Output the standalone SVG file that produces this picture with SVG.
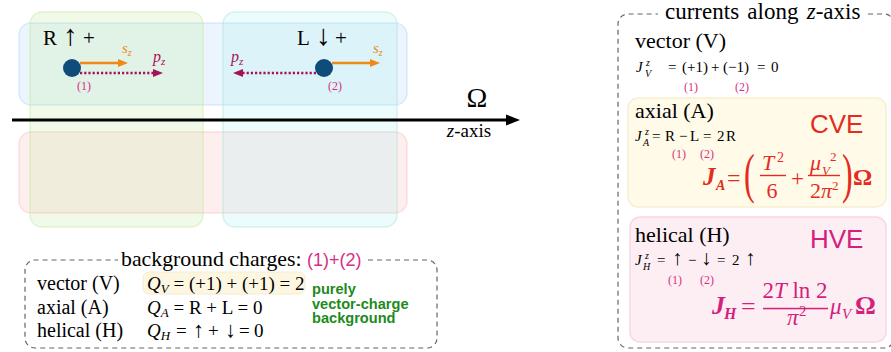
<svg xmlns="http://www.w3.org/2000/svg" width="891" height="352" viewBox="0 0 891 352">
<style>
.serif{font-family:"Liberation Serif","Times New Roman",serif;fill:#000}
.sans{font-family:"Liberation Sans",Arial,sans-serif}
.it{font-style:italic}
.bd{font-weight:bold}
.lbl{font-family:"Liberation Serif",serif;font-size:12px;fill:#d6307f;text-anchor:middle}
.dash{fill:none;stroke:#666;stroke-width:1.2;stroke-dasharray:5,4}
.reg{stroke-width:1.5}
.red{fill:#e52b1e}
.mag{fill:#d41f7c}
.orange{stroke:#f08a14;stroke-width:2.5;fill:none}
.purple{stroke:#a3135a;stroke-width:2.5;fill:none;stroke-dasharray:2.2,2}
</style>

<g id="regions">
  <rect x="19" y="23" width="388" height="82" rx="12" fill="#a0cef5" fill-opacity="0.2" stroke="#a0cef5" stroke-opacity="0.35" class="reg"/>
  <rect x="19" y="132" width="388" height="81" rx="12" fill="#f8b0b0" fill-opacity="0.2" stroke="#f8b0b0" stroke-opacity="0.35" class="reg"/>
  <rect x="30" y="12" width="173" height="215" rx="12" fill="#b8e890" fill-opacity="0.2" stroke="#b8e890" stroke-opacity="0.4" class="reg"/>
  <rect x="223" y="12" width="174" height="215" rx="12" fill="#a0ecec" fill-opacity="0.2" stroke="#a0e0d8" stroke-opacity="0.4" class="reg"/>
</g>

<g id="axis">
  <line x1="12" y1="120" x2="508" y2="120" stroke="#000" stroke-width="3"/>
  <polygon points="506,114.5 520,120 506,125.5" fill="#000"/>
  <text class="serif" x="477" y="107" font-size="28" text-anchor="middle">Ω</text>
  <text class="serif" x="469" y="137" font-size="19" text-anchor="middle"><tspan class="it">z</tspan>-axis</text>
</g>

<g id="particle1">
  <text class="serif" y="45" font-size="21"><tspan x="43">R</tspan><tspan x="63" font-size="29">↑</tspan><tspan x="83">+</tspan></text>
  <line x1="80" y1="63" x2="119" y2="63" class="orange"/>
  <polygon points="118,59 128,63 118,67" fill="#f08a14"/>
  <line x1="80" y1="73" x2="154" y2="73" class="purple"/>
  <polygon points="153,69 163,73 153,77" fill="#a3135a"/>
  <circle cx="72" cy="68" r="9" fill="#0f4c7a"/>
  <text class="serif it" x="122" y="53" font-size="15" style="fill:#f08a14">s<tspan font-size="10" dy="3">z</tspan></text>
  <text class="serif it" x="153" y="62" font-size="16" style="fill:#a3135a">p<tspan font-size="11" dy="3">z</tspan></text>
  <text class="lbl" x="84" y="90">(1)</text>
</g>

<g id="particle2">
  <text class="serif" y="45" font-size="21"><tspan x="297">L</tspan><tspan x="316" font-size="29">↓</tspan><tspan x="335">+</tspan></text>
  <line x1="332" y1="63" x2="371" y2="63" class="orange"/>
  <polygon points="370,59 380,63 370,67" fill="#f08a14"/>
  <line x1="316" y1="73" x2="242" y2="73" class="purple"/>
  <polygon points="243,69 233,73 243,77" fill="#a3135a"/>
  <circle cx="324" cy="68" r="9" fill="#0f4c7a"/>
  <text class="serif it" x="373" y="53" font-size="15" style="fill:#f08a14">s<tspan font-size="10" dy="3">z</tspan></text>
  <text class="serif it" x="231" y="62" font-size="16" style="fill:#a3135a">p<tspan font-size="11" dy="3">z</tspan></text>
  <text class="lbl" x="335" y="90">(2)</text>
</g>

<g id="background-charges">
  <path class="dash" d="M 368 260 H 427 A 10 10 0 0 1 437 270 V 338 A 10 10 0 0 1 427 348 H 35 A 10 10 0 0 1 25 338 V 270 A 10 10 0 0 1 35 260 H 118"/>
  <text class="serif" x="121" y="266" font-size="21.8">background charges: <tspan class="sans" font-size="18" style="fill:#d6307f">(1)+(2)</tspan></text>
  <rect x="143" y="272" width="162" height="22" rx="6" fill="#fdf6e0" stroke="#f6ecd0" stroke-width="1"/>
  <text class="serif" x="37" y="290" font-size="20">vector (V)</text>
  <text class="serif" x="37" y="314" font-size="20">axial (A)</text>
  <text class="serif" x="37" y="337" font-size="20">helical (H)</text>
  <text class="serif" x="147" y="290" font-size="19"><tspan class="it">Q</tspan><tspan class="it" font-size="13" dy="3">V</tspan><tspan dy="-3"> = (+1) + (+1) = 2</tspan></text>
  <text class="serif" x="147" y="314" font-size="19"><tspan class="it">Q</tspan><tspan class="it" font-size="13" dy="3">A</tspan><tspan dy="-3"> = R + L = 0</tspan></text>
  <text class="serif" y="337" font-size="19"><tspan x="147" class="it">Q</tspan><tspan class="it" font-size="13" dy="3">H</tspan><tspan x="176" dy="-3">=</tspan><tspan x="193" font-size="22">↑</tspan><tspan x="208">+</tspan><tspan x="225" font-size="22">↓</tspan><tspan x="239">=</tspan><tspan x="254">0</tspan></text>
  <text class="sans bd" font-size="14.6" style="fill:#1d8a1d"><tspan x="312" y="294">purely</tspan><tspan x="312" y="308.5">vector-charge</tspan><tspan x="312" y="323">background</tspan></text>
</g>

<g id="currents">
  <path class="dash" d="M 868 14 H 884 A 10 10 0 0 1 894 24 V 338 A 10 10 0 0 1 884 348 H 628 A 10 10 0 0 1 618 338 V 24 A 10 10 0 0 1 628 14 H 658"/>
  <text class="serif" x="665" y="19" font-size="23" word-spacing="2.5">currents along <tspan class="it">z</tspan>-axis</text>

  <g id="vector-current">
    <text class="serif" x="635" y="48" font-size="22">vector (V)</text>
    <text class="serif it" x="636" y="72" font-size="15">J</text>
    <text class="serif it" x="646" y="66" font-size="10">z</text>
    <text class="serif it" x="645" y="77" font-size="10">V</text>
    <text class="serif" y="72" font-size="15"><tspan x="668">=</tspan><tspan x="682">(+1)</tspan><tspan x="711">+</tspan><tspan x="723">(−1)</tspan><tspan x="757">=</tspan><tspan x="771">0</tspan></text>
    <text class="lbl" x="691" y="91">(1)</text>
    <text class="lbl" x="742" y="91">(2)</text>
  </g>

  <g id="axial-current">
    <rect x="628" y="98" width="258" height="109" rx="10" fill="#fffbe8" stroke="#f7efd2" stroke-width="1.5"/>
    <text class="serif" x="635" y="118" font-size="22">axial (A)</text>
    <text class="serif it" x="635" y="141" font-size="15">J</text>
    <text class="serif it" x="645" y="135" font-size="10">z</text>
    <text class="serif it" x="643" y="146" font-size="10">A</text>
    <text class="serif" y="141" font-size="15"><tspan x="652">=</tspan><tspan x="665">R</tspan><tspan x="679">−</tspan><tspan x="690">L</tspan><tspan x="703">=</tspan><tspan x="717">2</tspan><tspan x="726">R</tspan></text>
    <text class="lbl" x="679" y="158">(1)</text>
    <text class="lbl" x="707" y="158">(2)</text>
    <text class="sans red" x="810" y="133" font-size="26">CVE</text>
    <g>
      <text class="serif it bd red" x="703" y="185" font-size="25">J</text>
      <text class="serif it bd red" x="716" y="190" font-size="14">A</text>
      <text class="serif red" x="727" y="186" font-size="24">=</text>
      <text class="serif red" font-size="40" transform="translate(744,192) scale(0.8,1.38)">(</text>
      <text class="serif it red" x="762" y="170" font-size="22">T</text>
      <text class="serif red" x="777" y="162" font-size="14">2</text>
      <rect x="760" y="174.8" width="26" height="1.4" fill="#e52b1e"/>
      <text class="serif red" x="772" y="198" font-size="22" text-anchor="middle">6</text>
      <text class="serif red" x="791" y="186" font-size="23">+</text>
      <text class="serif it red" x="810" y="170" font-size="22">μ</text>
      <text class="serif it red" x="822" y="175" font-size="13">V</text>
      <text class="serif red" x="830" y="161" font-size="13">2</text>
      <rect x="808" y="174.8" width="32" height="1.4" fill="#e52b1e"/>
      <text class="serif red" x="810" y="198" font-size="22">2<tspan class="it">π</tspan></text>
      <text class="serif red" x="832" y="190" font-size="13">2</text>
      <text class="serif red" font-size="40" transform="translate(842,192) scale(0.8,1.38)">)</text>
      <text class="serif bd red" x="853" y="185" font-size="24">Ω</text>
    </g>
  </g>

  <g id="helical-current">
    <rect x="630" y="217" width="256" height="125" rx="10" fill="#fdeef4" stroke="#f8d7e3" stroke-width="1.5"/>
    <text class="serif" x="635" y="242" font-size="22">helical (H)</text>
    <text class="serif it" x="635" y="265" font-size="15">J</text>
    <text class="serif it" x="645" y="259" font-size="10">z</text>
    <text class="serif it" x="643" y="270" font-size="10">H</text>
    <text class="serif" y="265" font-size="15"><tspan x="657">=</tspan><tspan x="672" font-size="21">↑</tspan><tspan x="688">−</tspan><tspan x="701" font-size="21">↓</tspan><tspan x="717">=</tspan><tspan x="732">2</tspan><tspan x="745" font-size="21">↑</tspan></text>
    <text class="lbl" x="675" y="284">(1)</text>
    <text class="lbl" x="707" y="284">(2)</text>
    <text class="sans mag" x="810" y="248" font-size="26">HVE</text>
    <text class="serif it bd mag" x="712" y="314" font-size="26">J</text>
    <text class="serif it bd mag" x="724" y="319" font-size="16">H</text>
    <text class="serif mag" x="741" y="315" font-size="26">=</text>
    <text class="serif mag" x="795" y="298" font-size="23" text-anchor="middle">2<tspan class="it">T</tspan> ln 2</text>
    <rect x="763" y="307.8" width="65" height="1.5" fill="#d41f7c"/>
    <text class="serif it mag" x="787" y="325" font-size="23">π</text>
    <text class="serif mag" x="799" y="316" font-size="15">2</text>
    <text class="serif it mag" x="830" y="314" font-size="23">μ</text>
    <text class="serif it mag" x="842" y="319" font-size="15">V</text>
    <text class="serif bd mag" x="855" y="314" font-size="26">Ω</text>
  </g>
</g>
</svg>
